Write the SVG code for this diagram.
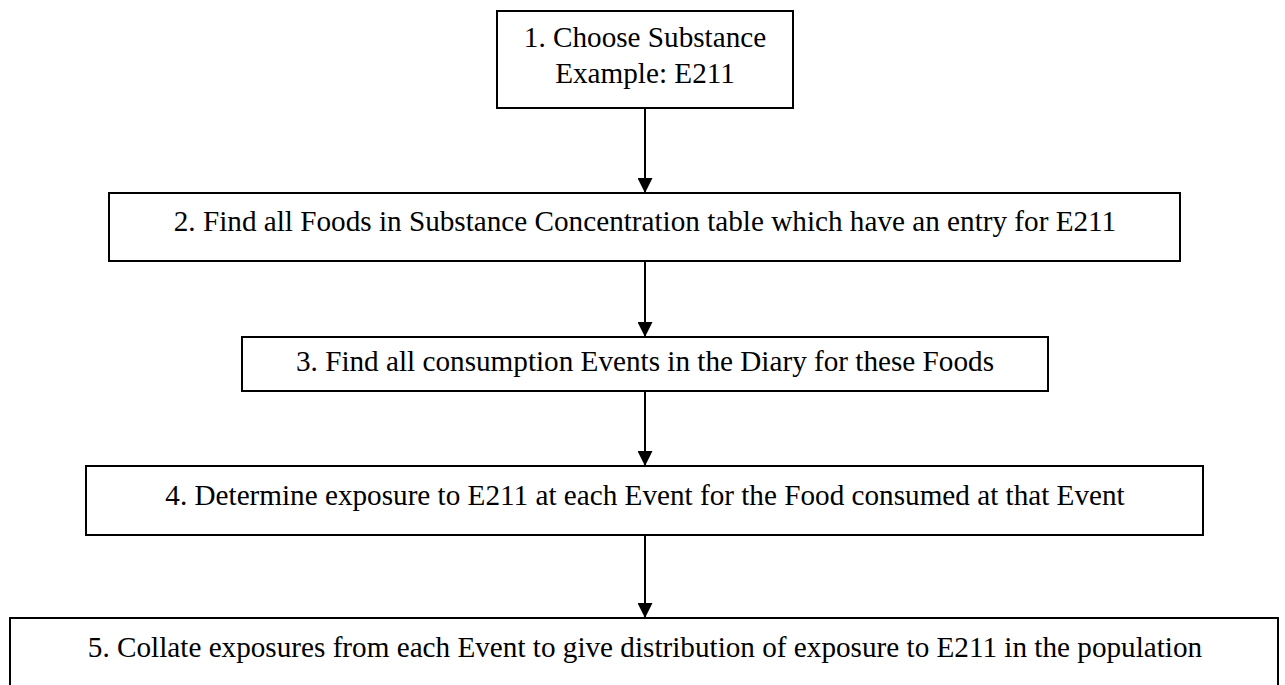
<svg xmlns="http://www.w3.org/2000/svg" width="1285" height="685" viewBox="0 0 1285 685">
  <style>
    .box { fill: #ffffff; stroke: #000000; stroke-width: 2; }
    .label { font-family: "Liberation Serif", "Times New Roman", serif; font-size: 29.2px; fill: #000000; text-anchor: middle; }
    .link { stroke: #000000; stroke-width: 2; fill: none; marker-end: url(#arrow); }
  </style>
  <defs>
    <marker id="arrow" viewBox="0 0 15 15" refX="15" refY="7.5" markerWidth="15" markerHeight="15" markerUnits="userSpaceOnUse" orient="auto">
      <path d="M0,0 L15,7.5 L0,15 Z" fill="#000000"/>
    </marker>
  </defs>
  <rect width="1285" height="685" fill="#ffffff"/>

  <g id="connectors">
    <line class="link" x1="645" y1="109" x2="645" y2="193"/>
    <line class="link" x1="645" y1="261" x2="645" y2="337"/>
    <line class="link" x1="645" y1="391" x2="645" y2="466"/>
    <line class="link" x1="645" y1="535" x2="645" y2="618"/>
  </g>

  <g id="step1">
    <rect class="box" x="497" y="11" width="296" height="97"/>
    <text class="label" x="645" y="47">1. Choose Substance</text>
    <text class="label" x="645" y="83">Example: E211</text>
  </g>

  <g id="step2">
    <rect class="box" x="109" y="193" width="1071" height="68"/>
    <text class="label" x="645" y="231">2. Find all Foods in Substance Concentration table which have an entry for E211</text>
  </g>

  <g id="step3">
    <rect class="box" x="242" y="337" width="806" height="54"/>
    <text class="label" x="645" y="371">3. Find all consumption Events in the Diary for these Foods</text>
  </g>

  <g id="step4">
    <rect class="box" x="86" y="466" width="1117" height="69"/>
    <text class="label" x="645" y="505">4. Determine exposure to E211 at each Event for the Food consumed at that Event</text>
  </g>

  <g id="step5">
    <rect class="box" x="10" y="618" width="1268" height="90"/>
    <text class="label" x="645" y="657">5. Collate exposures from each Event to give distribution of exposure to E211 in the population</text>
  </g>
</svg>
